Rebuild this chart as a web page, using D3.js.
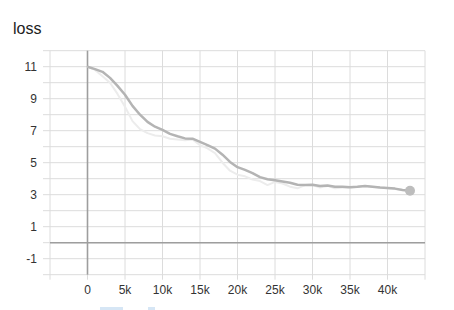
<!DOCTYPE html>
<html>
<head>
<meta charset="utf-8">
<script src="https://cdn.jsdelivr.net/npm/d3@7"></script>
<style>
  body { margin: 0; background: #fff; }
  text { font-family: "Liberation Sans", Arial, sans-serif; }
</style>
</head>
<body>
<div id="vis"></div>
<script>
const FRAME_WIDTH = 454;
const FRAME_HEIGHT = 310;

// training steps
const steps = [0, 1000, 2000, 3000, 4000, 5000, 6000, 7000, 8000, 9000, 10000,
  11000, 12000, 13000, 14000, 15000, 16000, 17000, 18000, 19000, 20000,
  21000, 22000, 23000, 24000, 25000, 26000, 27000, 28000, 29000, 30000,
  31000, 32000, 33000, 34000, 35000, 36000, 37000, 38000, 39000, 40000,
  41000, 42000, 43000];

// raw loss (faint line)
const rawLoss = [11.0, 10.8, 10.4, 10.0, 9.3, 8.5, 7.6, 7.1, 6.85, 6.7, 6.65,
  6.5, 6.45, 6.4, 6.45, 6.1, 5.9, 5.6, 5.0, 4.5, 4.25,
  4.15, 3.95, 3.85, 3.6, 3.8, 3.7, 3.5, 3.4, 3.6, 3.6,
  3.45, 3.55, 3.4, 3.45, 3.45, 3.5, 3.55, 3.5, 3.45, 3.4,
  3.35, 3.3, 3.25];

// smoothed loss (main line)
const smoothLoss = [11.0, 10.85, 10.68, 10.3, 9.8, 9.25, 8.55, 8.0, 7.55, 7.25, 7.05,
  6.8, 6.65, 6.52, 6.5, 6.3, 6.1, 5.88, 5.5, 5.05, 4.72,
  4.55, 4.35, 4.1, 3.97, 3.9, 3.82, 3.75, 3.62, 3.6, 3.62,
  3.55, 3.58, 3.5, 3.5, 3.47, 3.5, 3.55, 3.5, 3.45, 3.42,
  3.38, 3.3, 3.25];

const xGridTicks = d3.range(-5000, 45001, 5000);
const xLabelTicks = [0, 5000, 10000, 15000, 20000, 25000, 30000, 35000, 40000];
const yGridTicks = d3.range(-2, 13, 1);
const yLabelTicks = [-1, 1, 3, 5, 7, 9, 11];

const svg = d3.select("#vis")
  .append("svg")
    .attr("width", FRAME_WIDTH)
    .attr("height", FRAME_HEIGHT);

const X_SCALE = d3.scaleLinear().domain([-5000, 45000]).range([50, 425]);
const Y_SCALE = d3.scaleLinear().domain([-2, 12]).range([274.7, 50.7]);

// title
svg.append("text")
  .attr("x", 13)
  .attr("y", 34)
  .attr("font-size", 16)
  .attr("fill", "#212121")
  .text("loss");

// grid
svg.selectAll(".hgrid")
  .data(yGridTicks)
  .enter()
  .append("line")
    .attr("x1", 43)
    .attr("x2", X_SCALE(45000))
    .attr("y1", d => Y_SCALE(d))
    .attr("y2", d => Y_SCALE(d))
    .attr("stroke", "#dcdcdc")
    .attr("stroke-width", 1);

svg.selectAll(".vgrid")
  .data(xGridTicks)
  .enter()
  .append("line")
    .attr("x1", d => X_SCALE(d))
    .attr("x2", d => X_SCALE(d))
    .attr("y1", Y_SCALE(12))
    .attr("y2", Y_SCALE(-2) + 5)
    .attr("stroke", "#dcdcdc")
    .attr("stroke-width", 1);

// zero lines
svg.append("line")
  .attr("x1", X_SCALE(-5000)).attr("x2", X_SCALE(45000))
  .attr("y1", Y_SCALE(0)).attr("y2", Y_SCALE(0))
  .attr("stroke", "#9e9e9e").attr("stroke-width", 1.6);

svg.append("line")
  .attr("x1", X_SCALE(0)).attr("x2", X_SCALE(0))
  .attr("y1", Y_SCALE(12)).attr("y2", Y_SCALE(-2))
  .attr("stroke", "#9e9e9e").attr("stroke-width", 1.6);

// tick labels
svg.selectAll(".ylab")
  .data(yLabelTicks)
  .enter()
  .append("text")
    .attr("x", 37)
    .attr("y", d => Y_SCALE(d))
    .attr("dy", "0.35em")
    .attr("text-anchor", "end")
    .attr("font-size", 12)
    .attr("fill", "#333")
    .text(d => d);

svg.selectAll(".xlab")
  .data(xLabelTicks)
  .enter()
  .append("text")
    .attr("x", d => X_SCALE(d))
    .attr("y", 294)
    .attr("text-anchor", "middle")
    .attr("font-size", 12)
    .attr("fill", "#333")
    .text(d => d === 0 ? "0" : (d / 1000) + "k");

// lines
const rawData = steps.map((s, i) => ({step: s, value: rawLoss[i]}));
const smoothData = steps.map((s, i) => ({step: s, value: smoothLoss[i]}));

const line = d3.line()
  .x(d => X_SCALE(d.step))
  .y(d => Y_SCALE(d.value));

svg.append("path")
  .datum(rawData)
  .attr("d", line)
  .attr("fill", "none")
  .attr("stroke", "#ececec")
  .attr("stroke-width", 2)
  .attr("stroke-linejoin", "round");

svg.append("path")
  .datum(smoothData)
  .attr("d", line)
  .attr("fill", "none")
  .attr("stroke", "#b4b4b4")
  .attr("stroke-width", 2.5)
  .attr("stroke-linejoin", "round");

const last = smoothData[smoothData.length - 1];
svg.append("circle")
  .attr("cx", X_SCALE(last.step))
  .attr("cy", Y_SCALE(last.value))
  .attr("r", 5)
  .attr("fill", "#bdbdbd");

// cropped toolbar buttons at the bottom edge
svg.append("rect").attr("x", 100).attr("y", 307).attr("width", 23).attr("height", 3).attr("fill", "#d6e6f5");
svg.append("rect").attr("x", 148).attr("y", 307).attr("width", 7).attr("height", 3).attr("fill", "#d6e6f5");
</script>
</body>
</html>
